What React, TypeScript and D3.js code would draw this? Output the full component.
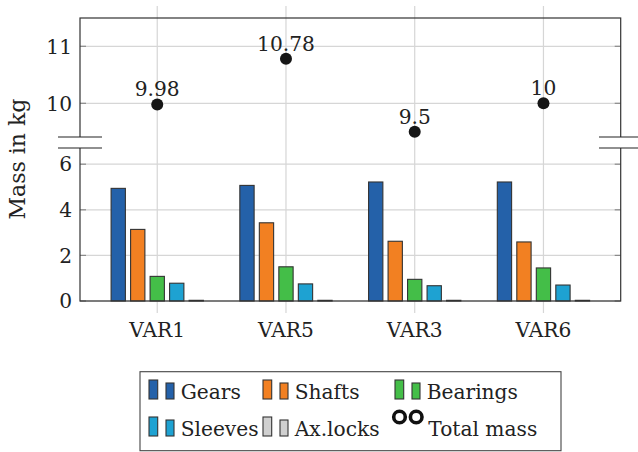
import React from 'react';
import * as d3 from 'd3';

const categories = ['VAR1', 'VAR5', 'VAR3', 'VAR6'];
const seriesNames = ['Gears', 'Shafts', 'Bearings', 'Sleeves', 'Ax.locks'];
const gears = [4.94, 5.07, 5.22, 5.22];
const shafts = [3.14, 3.43, 2.62, 2.59];
const bearings = [1.08, 1.5, 0.95, 1.45];
const sleeves = [0.78, 0.75, 0.67, 0.7];
const axlocks = [0.03, 0.03, 0.03, 0.03];
const totals = [9.98, 10.78, 9.5, 10];
const totalLabels = ['9.98', '10.78', '9.5', '10'];
const lowerTicks = [0, 2, 4, 6];
const upperTicks = [10, 11];

const seriesValues = [gears, shafts, bearings, sleeves, axlocks];
const colors = ['#2461a9', '#f28022', '#44be48', '#1ea2d2', '#d0d0d0'];

const W = 638;
const H = 452;
const L = 80;
const R = 620.7;
const T = 18;
const B = 301;
const BRK = 142;
const FONT = '"DejaVu Serif", "Liberation Serif", serif';

export default function App() {
  const x = d3.scaleLinear().domain([0.4, 4.6]).range([L, R]);
  const yLow = d3.scaleLinear().domain([0, 7]).range([B, B - 7 * 22.8]);
  const yHigh = d3.scaleLinear().domain([10, 11]).range([103.3, 46.3]);
  const inner = d3
    .scaleBand<string>()
    .domain(seriesNames)
    .range([-2.5 * 19.5, 2.5 * 19.5])
    .paddingInner(0.267)
    .paddingOuter(0.1335);

  const gridColor = '#d6d6d6';
  const tickColor = '#8a8a8a';
  const fs = 20.2;

  const legendCols = [149, 263, 395];
  const legendRows = [399, 436];
  const legendItems = [
    { name: 'Gears', col: 0, row: 0, kind: 0 },
    { name: 'Shafts', col: 1, row: 0, kind: 1 },
    { name: 'Bearings', col: 2, row: 0, kind: 2 },
    { name: 'Sleeves', col: 0, row: 1, kind: 3 },
    { name: 'Ax.locks', col: 1, row: 1, kind: 4 },
  ];

  return (
    <svg
      width={W}
      height={H}
      style={{ position: 'absolute', left: 0, top: 0, background: '#fff' }}
      fontFamily={FONT}
    >
      {categories.map((c, i) => (
        <line key={'vg' + c} x1={x(i + 1)} x2={x(i + 1)} y1={6} y2={313} stroke={gridColor} strokeWidth={1.2} />
      ))}
      {lowerTicks.map((t) => (
        <g key={'lg' + t}>
          <line x1={L} x2={R} y1={yLow(t)} y2={yLow(t)} stroke={gridColor} strokeWidth={1.2} />
          <line x1={L} x2={L + 6} y1={yLow(t)} y2={yLow(t)} stroke={tickColor} strokeWidth={1.2} />
          <line x1={R - 6} x2={R} y1={yLow(t)} y2={yLow(t)} stroke={tickColor} strokeWidth={1.2} />
          <text x={72} y={yLow(t)} dy="0.36em" textAnchor="end" fontSize={fs} fill="#222">
            {t}
          </text>
        </g>
      ))}
      {upperTicks.map((t) => (
        <g key={'ug' + t}>
          <line x1={L} x2={R} y1={yHigh(t)} y2={yHigh(t)} stroke={gridColor} strokeWidth={1.2} />
          <line x1={L} x2={L + 6} y1={yHigh(t)} y2={yHigh(t)} stroke={tickColor} strokeWidth={1.2} />
          <line x1={R - 6} x2={R} y1={yHigh(t)} y2={yHigh(t)} stroke={tickColor} strokeWidth={1.2} />
          <text x={72} y={yHigh(t)} dy="0.36em" textAnchor="end" fontSize={fs} fill="#222">
            {t}
          </text>
        </g>
      ))}
      {categories.map((c, i) =>
        seriesNames.map((s, k) => {
          const v = seriesValues[k][i];
          const bx = x(i + 1) + (inner(s) as number);
          return (
            <rect
              key={c + s}
              x={bx}
              y={yLow(v)}
              width={inner.bandwidth()}
              height={yLow(0) - yLow(v)}
              fill={colors[k]}
              stroke="#333"
              strokeWidth={1.1}
            />
          );
        })
      )}
      <rect x={L} y={T} width={R - L} height={B - T} fill="none" stroke="#333" strokeWidth={1.2} />
      {[[58, 102], [599, 642]].map(([a, b], j) => (
        <g key={'brk' + j}>
          <rect x={a} y={BRK - 5} width={b - a} height={11} fill="#fff" />
          <line x1={a} x2={b} y1={BRK - 5} y2={BRK - 5} stroke="#222" strokeWidth={1.2} />
          <line x1={a} x2={b} y1={BRK + 6} y2={BRK + 6} stroke="#222" strokeWidth={1.2} />
        </g>
      ))}
      {categories.map((c, i) => (
        <text key={'xl' + c} x={x(i + 1)} y={336.7} textAnchor="middle" fontSize={fs} fill="#222">
          {c}
        </text>
      ))}
      {totals.map((t, i) => (
        <g key={'tot' + i}>
          <circle cx={x(i + 1)} cy={yHigh(t)} r={6} fill="#161616" />
          <text x={x(i + 1)} y={yHigh(t) - 8} textAnchor="middle" fontSize={fs} fill="#222">
            {totalLabels[i]}
          </text>
        </g>
      ))}
      <text transform="translate(25,159) rotate(-90)" textAnchor="middle" fontSize={22} fill="#222">
        Mass in kg
      </text>
      <rect x={140} y={371.7} width={421} height={79} fill="#fff" stroke="#444" strokeWidth={1.1} />
      {legendItems.map((it) => {
        const x0 = legendCols[it.col];
        const yb = legendRows[it.row];
        return (
          <g key={'lg' + it.name}>
            <rect x={x0} y={yb - 19} width={8.7} height={19} fill={colors[it.kind]} stroke="#333" strokeWidth={1.1} />
            <rect x={x0 + 17} y={yb - 16} width={8} height={16} fill={colors[it.kind]} stroke="#333" strokeWidth={1.1} />
            <text x={x0 + 31.7} y={yb} fontSize={fs} fill="#222">
              {it.name}
            </text>
          </g>
        );
      })}
      <g>
        <circle cx={399.5} cy={417} r={5.8} fill="none" stroke="#111" strokeWidth={3.6} />
        <circle cx={416.2} cy={417} r={5.8} fill="none" stroke="#111" strokeWidth={3.6} />
        <text x={428.3} y={legendRows[1]} fontSize={fs} fill="#222">
          Total mass
        </text>
      </g>
    </svg>
  );
}
